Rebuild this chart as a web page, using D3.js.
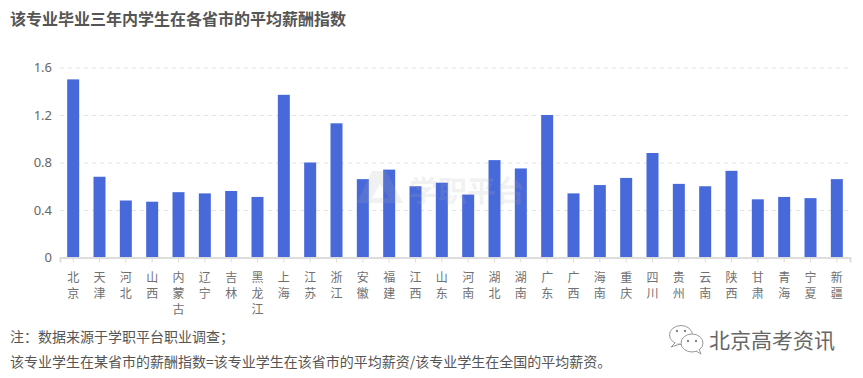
<!DOCTYPE html>
<html>
<head>
<meta charset="utf-8">
<script src="https://cdn.jsdelivr.net/npm/d3@7/dist/d3.min.js"></script>
<style>
html, body { margin: 0; padding: 0; background: #fff; }
text { font-family: "Noto Sans CJK SC", "Noto Sans", sans-serif; }
</style>
</head>
<body>
<div id="chart"></div>
<script>
const provinces = ["北京","天津","河北","山西","内蒙古","辽宁","吉林","黑龙江","上海","江苏","浙江","安徽","福建","江西","山东","河南","湖北","湖南","广东","广西","海南","重庆","四川","贵州","云南","陕西","甘肃","青海","宁夏","新疆"];
const values = [1.50,0.68,0.48,0.47,0.55,0.54,0.56,0.51,1.37,0.80,1.13,0.66,0.74,0.60,0.63,0.53,0.82,0.75,1.20,0.54,0.61,0.67,0.88,0.62,0.60,0.73,0.49,0.51,0.50,0.66];
const yTicks = [0, 0.4, 0.8, 1.2, 1.6];
const titleText = "该专业毕业三年内学生在各省市的平均薪酬指数";
const noteLines = ["注：数据来源于学职平台职业调查；", "该专业学生在某省市的薪酬指数=该专业学生在该省市的平均薪资/该专业学生在全国的平均薪资。"];

const width = 863;
const height = 378;
const margin = ({top: 67.5, right: 13, bottom: 120.5, left: 60});

const svg = d3.select("#chart").append("svg")
    .attr("width", width)
    .attr("height", height)
    .attr("viewBox", [0, 0, width, height])
    .style("display", "block");

const xScale = d3.scaleBand().domain(provinces).range([margin.left, width - margin.right]);
const yScale = d3.scaleLinear().domain([0, 1.6]).range([height - margin.bottom, margin.top]);

svg.append("text")
    .attr("x", 10)
    .attr("y", 25)
    .attr("font-size", 16)
    .attr("font-weight", 700)
    .attr("fill", "#555")
    .text(titleText);

// y axis, dashed grid lines
svg.append("g")
    .attr("transform", `translate(${margin.left},0)`)
    .call(d3.axisLeft(yScale).tickValues(yTicks).tickSize(0).tickPadding(8).tickFormat(d => d === 0 ? "0" : d3.format(".1f")(d)))
    .call(g => g.select(".domain").remove())
    .call(g => g.selectAll(".tick text").attr("font-size", 13).attr("fill", "#666").style("font-family", '"Noto Sans", sans-serif'))
    .call(g => g.selectAll(".tick line")
        .attr("x2", width - margin.left - margin.right)
        .attr("stroke", d => d === 0 ? "none" : "#e4e4e4")
        .attr("stroke-dasharray", "4,4"));

// bars
svg.append("g").selectAll("rect")
    .data(provinces)
    .join("rect")
    .attr("x", d => xScale(d) + xScale.bandwidth() / 2 - 6)
    .attr("width", 12)
    .attr("y", (d, i) => yScale(values[i]))
    .attr("height", (d, i) => yScale(0) - yScale(values[i]))
    .attr("fill", "#4869da");

// x axis, labels written vertically one character per line
svg.append("g")
    .attr("transform", `translate(0,${height - margin.bottom})`)
    .call(d3.axisBottom(xScale).tickSize(5).tickFormat(""))
    .call(g => g.select(".domain").attr("stroke", "#ddd").attr("stroke-width", 2))
    .call(g => g.selectAll(".tick line").attr("stroke", "#ddd"))
    .call(g => g.selectAll(".tick").append("text")
        .attr("fill", "#707070")
        .attr("font-size", 12)
        .attr("text-anchor", "middle")
        .selectAll("tspan")
        .data(d => Array.from(d))
        .join("tspan")
        .attr("x", 0)
        .attr("y", (d, i) => 24 + i * 16)
        .text(d => d));

// watermark on top of the bars
const mark = svg.append("g").attr("opacity", 0.16).attr("fill", "#aaa");
mark.append("path")
    .attr("fill-rule", "evenodd")
    .attr("d", "M372,171 L386,171 L403,203 L357,203 Z M380,184 L372,198 L389,198 Z");
mark.append("text")
    .attr("x", 409)
    .attr("y", 202)
    .attr("font-size", 29)
    .attr("font-weight", 700)
    .text("学职平台");

svg.append("g").selectAll("text")
    .data(noteLines)
    .join("text")
    .attr("x", 10)
    .attr("y", (d, i) => 342 + i * 25)
    .attr("font-size", 14)
    .attr("fill", "#555")
    .text(d => d);

// wechat style credit
const wx = svg.append("g").attr("fill", "#fff").attr("stroke", "#999").attr("stroke-width", 1);
wx.append("ellipse").attr("cx", 681).attr("cy", 335).attr("rx", 11.5).attr("ry", 9.5);
wx.append("path").attr("d", "M675,343 L671,347 L680,344");
wx.append("ellipse").attr("cx", 692).attr("cy", 343).attr("rx", 11).attr("ry", 9);
wx.append("path").attr("d", "M696,351 L701,354 L699,349");
wx.append("g").attr("fill", "#888").attr("stroke", "none").selectAll("circle")
    .data([[677, 331], [685, 331], [688, 341], [696, 341]])
    .join("circle")
    .attr("cx", d => d[0])
    .attr("cy", d => d[1])
    .attr("r", 1.2);
svg.append("text")
    .attr("x", 709)
    .attr("y", 348)
    .attr("font-size", 21)
    .attr("fill", "#666")
    .text("北京高考资讯");
</script>
</body>
</html>
